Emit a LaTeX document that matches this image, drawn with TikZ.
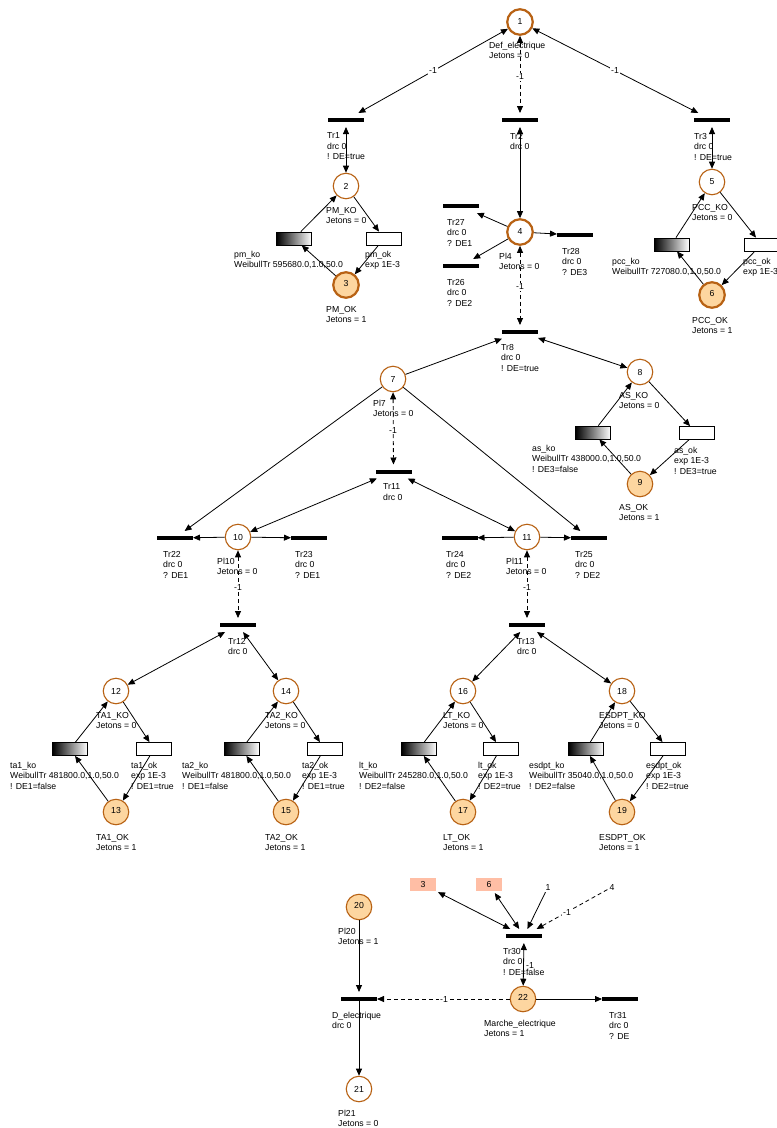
\documentclass[tikz,border=0pt]{standalone}
\usepackage{fontspec}
\setmainfont{Liberation Sans}
\usetikzlibrary{arrows.meta,shadings}
\definecolor{pbrown}{RGB}{184,98,20}
\definecolor{pfill}{RGB}{253,214,160}
\definecolor{salmon}{RGB}{255,190,165}
\begin{document}
\begin{tikzpicture}[x=1pt,y=-1pt,
  every node/.style={font=\fontsize{8.7}{10.5}\selectfont},
  place/.style={circle,draw=pbrown,line width=1.1pt,minimum size=25.5pt,inner sep=0pt},
  thickplace/.style={place,line width=2.2pt},
  tok/.style={fill=pfill,text depth=4pt,path picture={\fill ([yshift=-8pt]path picture bounding box.center) circle[radius=2.7pt];}},
  bar/.style={fill=black,minimum width=36pt,minimum height=4pt,inner sep=0pt,outer xsep=0pt,outer ysep=5pt},
  ttrans/.style={draw=black,line width=0.8pt,minimum width=35pt,minimum height=13pt,inner sep=0pt},
  grad/.style={ttrans,left color=black,right color=white},
  sbox/.style={fill=salmon,minimum width=26pt,minimum height=13pt,inner sep=0pt,outer sep=2pt},
  txt/.style={inner sep=2pt},
  lbl/.style={align=left,anchor=north west,inner sep=0pt},
  wl/.style={fill=white,inner sep=1pt},
  arc/.style={line width=0.8pt,-{Triangle[length=7pt,width=6pt]}},
  barc/.style={line width=0.8pt,{Triangle[length=7pt,width=6pt]}-{Triangle[length=7pt,width=6pt]}},
  dsh/.style={dash pattern=on 4pt off 3pt}
]
\useasboundingbox (0,0) rectangle (777,1128);
\fill[white] (0,0) rectangle (777,1128);

% places
\node[thickplace] (p1) at (520,22) {1};
\node[place] (p2) at (346,186) {2};
\node[thickplace,tok] (p3) at (346,285) {3};
\node[thickplace] (p4) at (520,232) {4};
\node[place] (p5) at (712,182) {5};
\node[thickplace,tok] (p6) at (712,295) {6};
\node[place] (p7) at (393,379) {7};
\node[place] (p8) at (640,372) {8};
\node[place,tok] (p9) at (640,484) {9};
\node[place] (p10) at (238,537) {10};
\node[place] (p11) at (527,537) {11};
\node[place] (p12) at (116,691) {12};
\node[place,tok] (p13) at (116,812) {13};
\node[place] (p14) at (286,691) {14};
\node[place,tok] (p15) at (286,812) {15};
\node[place] (p16) at (463,691) {16};
\node[place,tok] (p17) at (463,812) {17};
\node[place] (p18) at (622,691) {18};
\node[place,tok] (p19) at (622,812) {19};
\node[place,tok] (p20) at (359,907) {20};
\node[place] (p21) at (359,1089) {21};
\node[place,tok] (p22) at (523,999) {22};

% immediate transitions
\node[bar] (t1) at (346,120) {};
\node[bar] (t2) at (520,120) {};
\node[bar] (t3) at (712,120) {};
\node[bar] (t27) at (461,206) {};
\node[bar] (t26) at (461,266) {};
\node[bar] (t28) at (575,235) {};
\node[bar] (t8) at (520,332) {};
\node[bar] (t11) at (393.5,471.5) {};
\node[bar] (t22) at (175,538) {};
\node[bar] (t23) at (309,538) {};
\node[bar] (t24) at (459.5,538) {};
\node[bar] (t25) at (589,538) {};
\node[bar] (t12) at (238,625) {};
\node[bar] (t13) at (527,625) {};
\node[bar] (t30) at (524,936) {};
\node[bar] (tde) at (359,999) {};
\node[bar] (t31) at (620,999) {};

% timed transitions
\node[grad] (pmko) at (294,238.5) {};
\node[ttrans] (pmok) at (384,238.5) {};
\node[grad] (pccko) at (671.5,244.5) {};
\node[ttrans] (pccok) at (761.5,244.5) {};
\node[grad] (asko) at (593,432.5) {};
\node[ttrans] (asok) at (696.5,433) {};
\node[grad] (ta1ko) at (70,749) {};
\node[ttrans] (ta1ok) at (154,749) {};
\node[grad] (ta2ko) at (241.5,749) {};
\node[ttrans] (ta2ok) at (324.5,749) {};
\node[grad] (ltko) at (419,749) {};
\node[ttrans] (ltok) at (500.5,749) {};
\node[grad] (esko) at (586,749) {};
\node[ttrans] (esok) at (668,749) {};

% reference boxes and texts
\node[sbox] (b3) at (423,884.5) {3};
\node[sbox] (b6) at (489,884.5) {6};
\node[txt] (n1) at (548,887) {1};
\node[txt] (n4) at (612,887) {4};

% arcs top
\draw[barc] (p1) -- (t1);
\draw[barc,dsh] (p1) -- (t2);
\draw[barc] (p1) -- (t3);
\node[wl] (w1) at (433,71) {-1};
\node[wl] (w2) at (520,77) {-1};
\node[wl] (w3) at (615,71) {-1};
\draw[barc] (t1) -- (p2);
\draw[barc] (t2) -- (p4);
\draw[barc] (t3) -- (p5);
\draw[arc] (p2) -- (pmok);
\draw[arc] (pmok) -- (p3);
\draw[arc] (p3) -- (pmko);
\draw[arc] (pmko) -- (p2);
\draw[arc] (p5) -- (pccok);
\draw[arc] (pccok) -- (p6);
\draw[arc] (p6) -- (pccko);
\draw[arc] (pccko) -- (p5);
\draw[arc] (p4) -- (t27);
\draw[arc] (p4) -- (t26);
\draw[arc] (p4) -- (t28);
\draw[barc,dsh] (p4) -- (t8);
\node[wl] (w4) at (520,287) {-1};
\draw[arc] (p7) -- (t8);
\draw[barc] (t8) -- (p8);
\draw[arc] (p8) -- (asok);
\draw[arc] (asok) -- (p9);
\draw[arc] (p9) -- (asko);
\draw[arc] (asko) -- (p8);
\draw[barc,dsh] (p7) -- (t11);
\node[wl] (w7) at (393,430) {-1};
\draw[arc] (p7) -- (t22);
\draw[arc] (p7) -- (t25);
\draw[barc] (t11) -- (p10);
\draw[barc] (t11) -- (p11);
\draw[arc] (p10) -- (t22);
\draw[arc] (p10) -- (t23);
\draw[arc] (p11) -- (t24);
\draw[arc] (p11) -- (t25);
\draw[barc,dsh] (p10) -- (t12);
\node[wl] (w10) at (238,587) {-1};
\draw[barc,dsh] (p11) -- (t13);
\node[wl] (w11) at (527,587) {-1};
\draw[barc] (t12) -- (p12);
\draw[barc] (t12) -- (p14);
\draw[barc] (t13) -- (p16);
\draw[barc] (t13) -- (p18);
\draw[arc] (p12) -- (ta1ok);
\draw[arc] (ta1ok) -- (p13);
\draw[arc] (p13) -- (ta1ko);
\draw[arc] (ta1ko) -- (p12);
\draw[arc] (p14) -- (ta2ok);
\draw[arc] (ta2ok) -- (p15);
\draw[arc] (p15) -- (ta2ko);
\draw[arc] (ta2ko) -- (p14);
\draw[arc] (p16) -- (ltok);
\draw[arc] (ltok) -- (p17);
\draw[arc] (p17) -- (ltko);
\draw[arc] (ltko) -- (p16);
\draw[arc] (p18) -- (esok);
\draw[arc] (esok) -- (p19);
\draw[arc] (p19) -- (esko);
\draw[arc] (esko) -- (p18);

% bottom arcs
\draw[barc] (b3) -- (t30);
\draw[barc] (b6) -- (t30);
\draw[arc] (n1) -- (t30);
\draw[arc,dsh] (n4) -- (t30);
\node[wl] (w30) at (567,912) {-1};
\draw[barc] (t30) -- (p22);
\draw[arc] (p20) -- (tde);
\draw[arc] (tde.center) -- (p21);
\draw[arc,dsh] (p22) -- (tde);
\node[wl] (w22) at (444,999) {-1};
\draw[arc] (p22) -- (t31);
\node[inner sep=0pt] (w31) at (530,965) {-1};

% place labels
\node[lbl] (l1) at (489,41.8) {Def\_electrique\\Jetons = 0};
\node[lbl] (l2) at (326,206.8) {PM\_KO\\Jetons = 0};
\node[lbl] (l3) at (326,305.8) {PM\_OK\\Jetons = 1};
\node[lbl] (l4) at (499,252.8) {Pl4\\Jetons = 0};
\node[lbl] (l5) at (692,203.8) {PCC\_KO\\Jetons = 0};
\node[lbl] (l6) at (692,316.8) {PCC\_OK\\Jetons = 1};
\node[lbl] (l7) at (373,399.8) {Pl7\\Jetons = 0};
\node[lbl] (l8) at (619,391.8) {AS\_KO\\Jetons = 0};
\node[lbl] (l9) at (619,503.8) {AS\_OK\\Jetons = 1};
\node[lbl] (l10) at (217,557.8) {Pl10\\Jetons = 0};
\node[lbl] (l11) at (506,557.8) {Pl11\\Jetons = 0};
\node[lbl] (l12) at (96,711.8) {TA1\_KO\\Jetons = 0};
\node[lbl] (l13) at (96,833.8) {TA1\_OK\\Jetons = 1};
\node[lbl] (l14) at (265,711.8) {TA2\_KO\\Jetons = 0};
\node[lbl] (l15) at (265,833.8) {TA2\_OK\\Jetons = 1};
\node[lbl] (l16) at (443,711.8) {LT\_KO\\Jetons = 0};
\node[lbl] (l17) at (443,833.8) {LT\_OK\\Jetons = 1};
\node[lbl] (l18) at (599,711.8) {ESDPT\_KO\\Jetons = 0};
\node[lbl] (l19) at (599,833.8) {ESDPT\_OK\\Jetons = 1};
\node[lbl] (l20) at (338,927.8) {Pl20\\Jetons = 1};
\node[lbl] (l21) at (338,1109.8) {Pl21\\Jetons = 0};
\node[lbl] (l22) at (484,1019.8) {Marche\_electrique\\Jetons = 1};

% transition labels
\node[lbl] (lt1) at (327,132.8) {Tr1\\drc 0\\! DE=true};
\node[lbl] (lt2) at (510,132.8) {Tr2\\drc 0};
\node[lbl] (lt3) at (694,132.8) {Tr3\\drc 0\\! DE=true};
\node[lbl] (lt27) at (447,218.8) {Tr27\\drc 0\\? DE1};
\node[lbl] (lt26) at (447,278.8) {Tr26\\drc 0\\? DE2};
\node[lbl] (lt28) at (562,247.8) {Tr28\\drc 0\\? DE3};
\node[lbl] (lt8) at (501,343.8) {Tr8\\drc 0\\! DE=true};
\node[lbl] (lt11) at (383,483.8) {Tr11\\drc 0};
\node[lbl] (lt22) at (163,550.8) {Tr22\\drc 0\\? DE1};
\node[lbl] (lt23) at (295,550.8) {Tr23\\drc 0\\? DE1};
\node[lbl] (lt24) at (446,550.8) {Tr24\\drc 0\\? DE2};
\node[lbl] (lt25) at (575,550.8) {Tr25\\drc 0\\? DE2};
\node[lbl] (lt12) at (228,637.8) {Tr12\\drc 0};
\node[lbl] (lt13) at (517,637.8) {Tr13\\drc 0};
\node[lbl] (lt30) at (503,947.8) {Tr30\\drc 0\\! DE=false};
\node[lbl] (ltde) at (332,1011.8) {D\_electrique\\drc 0};
\node[lbl] (lt31) at (609,1011.8) {Tr31\\drc 0\\? DE};

% timed transition labels
\node[lbl] (lpmko) at (234,250.8) {pm\_ko\\WeibullTr 595680.0,1.0,50.0};
\node[lbl] (lpmok) at (365,250.8) {pm\_ok\\exp 1E-3};
\node[lbl] (lpccko) at (612,257.8) {pcc\_ko\\WeibullTr 727080.0,1.0,50.0};
\node[lbl] (lpccok) at (743,257.8) {pcc\_ok\\exp 1E-3};
\node[lbl] (lasko) at (532,444.8) {as\_ko\\WeibullTr 438000.0,1.0,50.0\\! DE3=false};
\node[lbl] (lasok) at (674,446.8) {as\_ok\\exp 1E-3\\! DE3=true};
\node[lbl] (lta1ko) at (10,761.8) {ta1\_ko\\WeibullTr 481800.0,1.0,50.0\\! DE1=false};
\node[lbl] (lta1ok) at (131,761.8) {ta1\_ok\\exp 1E-3\\! DE1=true};
\node[lbl] (lta2ko) at (182,761.8) {ta2\_ko\\WeibullTr 481800.0,1.0,50.0\\! DE1=false};
\node[lbl] (lta2ok) at (302,761.8) {ta2\_ok\\exp 1E-3\\! DE1=true};
\node[lbl] (lltko) at (359,761.8) {lt\_ko\\WeibullTr 245280.0,1.0,50.0\\! DE2=false};
\node[lbl] (lltok) at (478,761.8) {lt\_ok\\exp 1E-3\\! DE2=true};
\node[lbl] (lesko) at (529,761.8) {esdpt\_ko\\WeibullTr 35040.0,1.0,50.0\\! DE2=false};
\node[lbl] (lesok) at (646,761.8) {esdpt\_ok\\exp 1E-3\\! DE2=true};
\end{tikzpicture}
\end{document}
